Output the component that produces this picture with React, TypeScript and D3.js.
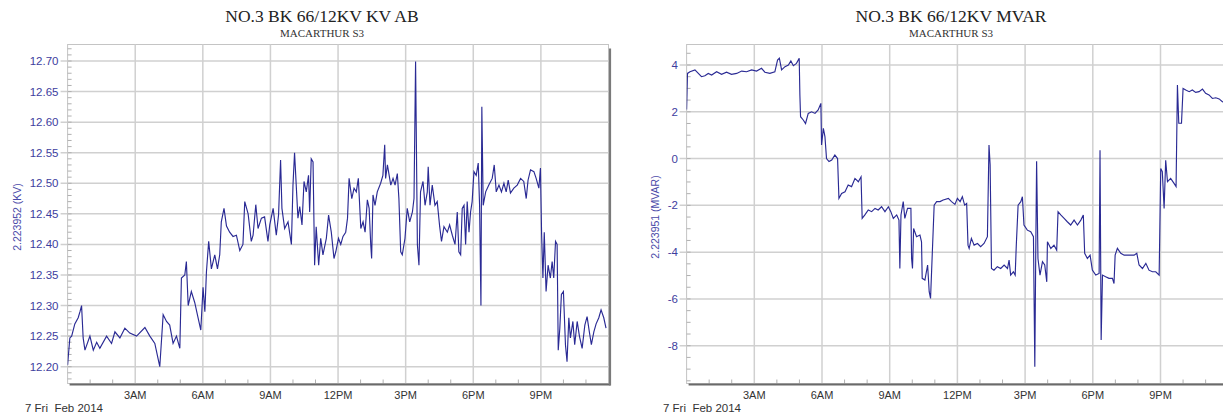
import React from 'react';
import * as d3 from 'd3';

// ---------- data ----------
const hourTicks = [3, 6, 9, 12, 15, 18, 21];
const hourLabels = ['3AM', '6AM', '9AM', '12PM', '3PM', '6PM', '9PM'];
const dateLabel = '7 Fri  Feb 2014';

const kvTicks = [12.2, 12.25, 12.3, 12.35, 12.4, 12.45, 12.5, 12.55, 12.6, 12.65, 12.7];
const mvarTicks = [-8, -6, -4, -2, 0, 2, 4];

// [hour of day, kV]
const kvSeries: [number, number][] = [
  [0, 12.203], [0.1, 12.247], [0.18, 12.25], [0.32, 12.27], [0.47, 12.28], [0.55, 12.29], [0.62, 12.3], [0.69, 12.247],
  [0.77, 12.227], [0.99, 12.25], [1.14, 12.227], [1.29, 12.24], [1.43, 12.23], [1.73, 12.25], [1.95, 12.238], [2.1, 12.257],
  [2.32, 12.247], [2.54, 12.263], [2.76, 12.255], [3.06, 12.25], [3.43, 12.264], [3.65, 12.25], [3.87, 12.238], [4.09, 12.2],
  [4.24, 12.285], [4.39, 12.274], [4.53, 12.268], [4.68, 12.238], [4.83, 12.25], [4.98, 12.23], [5.05, 12.345], [5.2, 12.35],
  [5.27, 12.372], [5.35, 12.3], [5.49, 12.323], [5.64, 12.305], [5.79, 12.28], [5.91, 12.26], [6.01, 12.33], [6.09, 12.29],
  [6.16, 12.355], [6.26, 12.405], [6.38, 12.36], [6.53, 12.383], [6.65, 12.36], [6.75, 12.383], [6.82, 12.437], [6.94, 12.459],
  [7.05, 12.43], [7.19, 12.42], [7.34, 12.413], [7.49, 12.415], [7.64, 12.39], [7.78, 12.4], [7.86, 12.47], [8.01, 12.45],
  [8.15, 12.405], [8.23, 12.415], [8.35, 12.465], [8.45, 12.426], [8.6, 12.443], [8.74, 12.445], [8.89, 12.405], [8.97, 12.432],
  [9.12, 12.459], [9.26, 12.415], [9.36, 12.448], [9.45, 12.538], [9.51, 12.459], [9.63, 12.426], [9.78, 12.437], [9.93, 12.4],
  [10.0, 12.497], [10.07, 12.55], [10.22, 12.443], [10.3, 12.462], [10.4, 12.432], [10.49, 12.503], [10.59, 12.486], [10.69, 12.513],
  [10.74, 12.453], [10.81, 12.54], [10.89, 12.535], [10.96, 12.366], [11.03, 12.429], [11.14, 12.366], [11.23, 12.41], [11.33, 12.383],
  [11.48, 12.41], [11.58, 12.448], [11.7, 12.42], [11.82, 12.377],
  [11.9, 12.388], [12.02, 12.41], [12.12, 12.4], [12.22, 12.413], [12.34, 12.42], [12.42, 12.443], [12.49, 12.508], [12.61, 12.475],
  [12.71, 12.492], [12.81, 12.486], [12.9, 12.508], [13.01, 12.426], [13.11, 12.437], [13.2, 12.42], [13.3, 12.473], [13.38, 12.459],
  [13.45, 12.4], [13.49, 12.377], [13.55, 12.481], [13.64, 12.464], [13.74, 12.486], [13.89, 12.5], [13.99, 12.513], [14.07, 12.563],
  [14.11, 12.508], [14.19, 12.53], [14.34, 12.497], [14.44, 12.508], [14.53, 12.497], [14.63, 12.516], [14.7, 12.475], [14.78, 12.388],
  [14.85, 12.383], [14.97, 12.41], [15.07, 12.459], [15.18, 12.437], [15.3, 12.453], [15.37, 12.475], [15.44, 12.699], [15.52, 12.4],
  [15.59, 12.366], [15.66, 12.486], [15.77, 12.503], [15.86, 12.464], [15.96, 12.486], [16.0, 12.527], [16.08, 12.464], [16.18, 12.497],
  [16.3, 12.464], [16.4, 12.47], [16.51, 12.429], [16.59, 12.405], [16.7, 12.429], [16.85, 12.42], [16.95, 12.432], [17.07, 12.415],
  [17.19, 12.4], [17.29, 12.453], [17.36, 12.388], [17.44, 12.383], [17.51, 12.459], [17.59, 12.464], [17.66, 12.4], [17.73, 12.47],
  [17.81, 12.42], [17.88, 12.453], [17.95, 12.47], [18.03, 12.519], [18.13, 12.513], [18.22, 12.533], [18.28, 12.464], [18.34, 12.3],
  [18.38, 12.625], [18.44, 12.464], [18.55, 12.486], [18.69, 12.497], [18.84, 12.508], [18.93, 12.53], [19.02, 12.486], [19.14, 12.497],
  [19.25, 12.486], [19.36, 12.5], [19.46, 12.486], [19.55, 12.505], [19.65, 12.484], [19.8, 12.492], [19.95, 12.497], [20.1, 12.508],
  [20.24, 12.503], [20.35, 12.475], [20.43, 12.505], [20.54, 12.522], [20.69, 12.519], [20.79, 12.508], [20.91, 12.492], [20.98, 12.525],
  [21.03, 12.42], [21.09, 12.345], [21.15, 12.42], [21.23, 12.323], [21.32, 12.366], [21.42, 12.345], [21.5, 12.372], [21.57, 12.345],
  [21.65, 12.405], [21.72, 12.4], [21.77, 12.227], [21.84, 12.263], [21.91, 12.318], [22.0, 12.323], [22.09, 12.236], [22.16, 12.208],
  [22.24, 12.28], [22.31, 12.247], [22.42, 12.274], [22.5, 12.236], [22.61, 12.274], [22.71, 12.25], [22.83, 12.23], [22.95, 12.268],
  [23.05, 12.282], [23.15, 12.257], [23.24, 12.236], [23.35, 12.257], [23.45, 12.27], [23.57, 12.28], [23.67, 12.293], [23.79, 12.28],
  [23.89, 12.263],
];

// [hour of day, MVAR]
const mvarSeries: [number, number][] = [
  [0, 2.1], [0.04, 3.64], [0.15, 3.71], [0.37, 3.79], [0.52, 3.64], [0.66, 3.5], [0.81, 3.54], [0.96, 3.64],
  [1.11, 3.57], [1.33, 3.71], [1.55, 3.6], [1.77, 3.69], [1.99, 3.6], [2.22, 3.64], [2.44, 3.74], [2.66, 3.71],
  [2.88, 3.79], [3.1, 3.74], [3.32, 3.86], [3.47, 3.69], [3.69, 3.64], [3.91, 3.71], [4.03, 4.21], [4.11, 4.29],
  [4.21, 3.79], [4.36, 3.93], [4.51, 4.0], [4.62, 4.17], [4.73, 3.97], [4.87, 4.07], [4.99, 4.29], [5.02, 2.72],
  [5.05, 1.79], [5.17, 1.65], [5.27, 1.5], [5.39, 1.93], [5.54, 2.0], [5.69, 1.93], [5.83, 2.08], [5.95, 2.36],
  [5.98, 0.58], [6.06, 1.29], [6.13, 0.94], [6.2, 0.0], [6.31, -0.13], [6.43, -0.06], [6.57, 0.15], [6.69, 0.0],
  [6.75, -1.7], [6.87, -1.49], [7.02, -1.42], [7.16, -1.13], [7.31, -1.2], [7.46, -0.85], [7.61, -0.99], [7.73, -0.78],
  [7.78, -2.56], [7.9, -2.41], [8.05, -2.2], [8.2, -2.27], [8.35, -2.13], [8.49, -2.2], [8.64, -2.06], [8.79, -2.27],
  [8.94, -2.06], [9.05, -2.27], [9.16, -2.56], [9.31, -2.41], [9.41, -2.63], [9.45, -4.7], [9.5, -2.41], [9.6, -1.84],
  [9.67, -2.56], [9.79, -2.13], [9.94, -2.13], [9.97, -4.27], [10.01, -4.7], [10.06, -2.99], [10.19, -3.34], [10.34, -3.27],
  [10.41, -3.56], [10.44, -5.12], [10.56, -5.19], [10.68, -4.55], [10.75, -5.69], [10.81, -5.98], [10.89, -3.98], [10.97, -1.99],
  [11.08, -1.84], [11.23, -1.84], [11.37, -1.77], [11.6, -1.7], [11.74, -1.84], [11.89, -1.96],
  [12.0, -1.7], [12.12, -1.84], [12.22, -1.63], [12.32, -1.99], [12.41, -1.92], [12.47, -3.7], [12.52, -3.84], [12.62, -3.41],
  [12.74, -3.7], [12.89, -3.63], [13.03, -3.77], [13.18, -3.63], [13.33, -3.34], [13.4, 0.58], [13.45, -0.26], [13.51, -4.7],
  [13.62, -4.77], [13.77, -4.62], [13.92, -4.7], [14.07, -4.55], [14.22, -4.7], [14.29, -4.34], [14.36, -4.98], [14.48, -4.84],
  [14.56, -4.98], [14.61, -3.7], [14.69, -1.99], [14.81, -1.84], [14.88, -1.63], [14.95, -2.84], [15.1, -3.06], [15.25, -3.13],
  [15.37, -3.34], [15.43, -8.9], [15.47, -4.27], [15.51, -0.11], [15.57, -4.27], [15.66, -4.98], [15.77, -4.41], [15.87, -4.55],
  [15.96, -5.27], [15.99, -3.56], [16.14, -3.84], [16.28, -3.7], [16.4, -3.91], [16.46, -2.27], [16.58, -2.41], [16.73, -2.56],
  [16.87, -2.7], [17.02, -2.84], [17.17, -2.63], [17.32, -2.84], [17.47, -2.63], [17.58, -2.41], [17.64, -4.05], [17.76, -4.27],
  [17.88, -4.13], [17.98, -4.77], [18.13, -4.98], [18.28, -4.91], [18.32, 0.36], [18.37, -7.76], [18.43, -4.98], [18.57, -5.05],
  [18.72, -5.12], [18.87, -5.12], [18.94, -5.34], [18.99, -4.13], [19.09, -3.84], [19.24, -4.05], [19.39, -4.13], [19.61, -4.13],
  [19.83, -4.13], [19.95, -4.05], [20.05, -4.55], [20.2, -4.7], [20.35, -4.48], [20.49, -4.77], [20.64, -4.84], [20.79, -4.84],
  [20.94, -4.98], [21.01, -0.42], [21.08, -0.56], [21.16, -2.13], [21.23, -0.07], [21.31, -0.99], [21.45, -0.85], [21.6, -1.06],
  [21.69, -1.2], [21.75, 3.14], [21.81, 1.51], [21.93, 1.51], [22.0, 3.0], [22.12, 2.93], [22.27, 2.86], [22.41, 2.93],
  [22.56, 2.83], [22.71, 2.86], [22.86, 2.97], [23.0, 2.79], [23.15, 2.72], [23.3, 2.57], [23.45, 2.6], [23.6, 2.55],
  [23.74, 2.43], [24, 2.4],
];

// ---------- styles ----------
const GRID = '#d0d0d0';
const LINE = '#2a2a94';
const TICKTXT = '#3d3d9e';
const SANS = '"Liberation Sans", Arial, sans-serif';
const SERIF = '"Liberation Serif", "Times New Roman", serif';

type PanelProps = {
  id: string;
  x0: number;
  x1: number;
  yDomain: [number, number];
  yTicks: number[];
  minorTicks: number[];
  fmt: (v: number) => string;
  title: string;
  titleX: number;
  yTitle: string;
  yTitleX: number;
  labelX: number;
  dateX: number;
  data: [number, number][];
  shadow: boolean;
};

const Y0 = 44.5;
const Y1 = 383.5;

function Panel(p: PanelProps) {
  const x = d3.scaleLinear().domain([0, 24]).range([p.x0, p.x1]);
  const y = d3.scaleLinear().domain(p.yDomain).range([Y1, Y0]);
  const line = d3
    .line<[number, number]>()
    .x((d) => x(d[0]))
    .y((d) => y(d[1]));
  const minorHours = d3.range(1, 24).filter((h) => h % 3 !== 0);
  const yMid = (Y0 + Y1) / 2;
  return (
    <g>
      <defs>
        <clipPath id={p.id}>
          <rect x={p.x0} y={Y0} width={p.x1 - p.x0} height={Y1 - Y0} />
        </clipPath>
      </defs>
      <rect x={p.x0} y={Y0} width={p.x1 - p.x0} height={Y1 - Y0} fill="#fff" stroke="#c4c4c4" strokeWidth={1} />
      {p.yTicks.map((t) => (
        <line key={'gy' + t} x1={p.x0 - 7} x2={p.x1} y1={y(t)} y2={y(t)} stroke={GRID} strokeWidth={1.5} />
      ))}
      {hourTicks.map((h) => (
        <line key={'gx' + h} x1={x(h)} x2={x(h)} y1={Y0} y2={Y1} stroke={GRID} strokeWidth={1.5} />
      ))}
      {p.minorTicks.map((t) => (
        <line key={'my' + t} x1={p.x0} x2={p.x0 + 4} y1={y(t)} y2={y(t)} stroke="#b0b0b0" strokeWidth={1} />
      ))}
      {minorHours.map((h) => (
        <line key={'mx' + h} x1={x(h)} x2={x(h)} y1={Y1 - 4} y2={Y1} stroke="#b0b0b0" strokeWidth={1} />
      ))}
      <path d={line(p.data) || ''} fill="none" stroke={LINE} strokeWidth={1.15} clipPath={`url(#${p.id})`} />
      {/* shadowed frame */}
      <line x1={p.x0 + 2} x2={p.x1 + 2} y1={Y1 + 1} y2={Y1 + 1} stroke="#6a6a6a" strokeWidth={2.2} />
      {p.shadow && (
        <line x1={p.x1 + 1.5} x2={p.x1 + 1.5} y1={Y0 + 4} y2={Y1 + 2} stroke="#7a7a7a" strokeWidth={2.2} />
      )}
      {p.yTicks.map((t) => (
        <text
          key={'ly' + t}
          x={p.labelX}
          y={y(t)}
          dy="0.35em"
          textAnchor="end"
          fontFamily={SANS}
          fontSize={11.5}
          fill={TICKTXT}
        >
          {p.fmt(t)}
        </text>
      ))}
      {hourTicks.map((h, i) => (
        <text key={'lx' + h} x={x(h)} y={399} textAnchor="middle" fontFamily={SANS} fontSize={11} fill="#333">
          {hourLabels[i]}
        </text>
      ))}
      <text x={p.dateX} y={412} fontFamily={SANS} fontSize={11.5} fill="#333" style={{ whiteSpace: 'pre' }}>
        {dateLabel}
      </text>
      <text
        transform={`translate(${p.yTitleX},${yMid + 3}) rotate(-90)`}
        textAnchor="middle"
        dy="0.35em"
        fontFamily={SANS}
        fontSize={10.5}
        fill="#4a4aa8"
      >
        {p.yTitle}
      </text>
      <text x={p.titleX} y={22} textAnchor="middle" fontFamily={SERIF} fontSize={17.5} fill="#222">
        {p.title}
      </text>
      <text x={p.titleX} y={36.5} textAnchor="middle" fontFamily={SERIF} fontSize={11} fill="#333">
        MACARTHUR S3
      </text>
    </g>
  );
}

export default function App() {
  const kvMinor = d3.range(1218, 1273).map((v) => v / 100);
  const mvarMinor = d3.range(-19, 10).map((v) => v / 2);
  return (
    <svg
      width={1223}
      height={418}
      style={{ position: 'absolute', left: 0, top: 0, background: '#fff' }}
    >
      <rect x={0} y={0} width={1223} height={418} fill="#fff" />
      <Panel
        id="clipKV"
        x0={67.6}
        x1={608.5}
        yDomain={[12.1725, 12.727]}
        yTicks={kvTicks}
        minorTicks={kvMinor}
        fmt={d3.format('.2f')}
        title="NO.3 BK 66/12KV KV AB"
        titleX={322}
        yTitle="2.223952 (KV)"
        yTitleX={17}
        labelX={58.5}
        dateX={25}
        data={kvSeries}
        shadow={true}
      />
      <Panel
        id="clipMVAR"
        x0={686.6}
        x1={1228.2}
        yDomain={[-9.615, 4.876]}
        yTicks={mvarTicks}
        minorTicks={mvarMinor}
        fmt={(v) => String(v)}
        title="NO.3 BK 66/12KV MVAR"
        titleX={951}
        yTitle="2.223951 (MVAR)"
        yTitleX={655}
        labelX={678}
        dateX={663}
        data={mvarSeries}
        shadow={true}
      />
    </svg>
  );
}
